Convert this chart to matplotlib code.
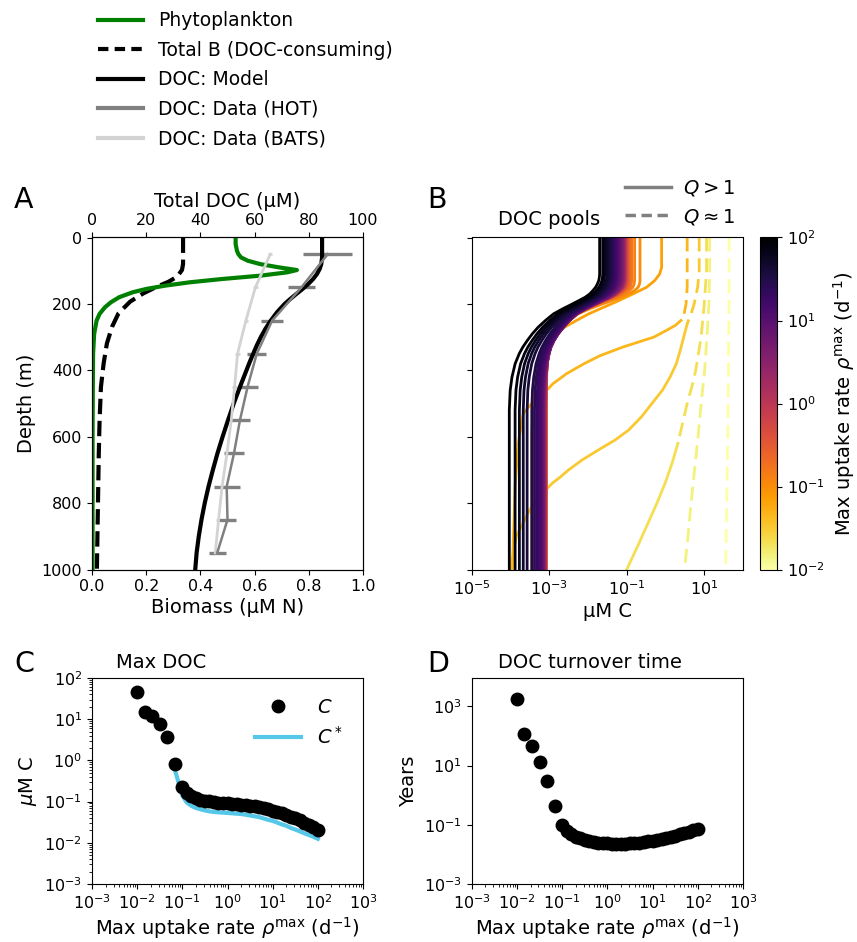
import numpy as np
import matplotlib
matplotlib.use("Agg")
import matplotlib.pyplot as plt
from matplotlib.colors import LogNorm
from matplotlib.lines import Line2D
import matplotlib.ticker as mticker
import matplotlib.cm as cm

# ---------------- Panel A data ----------------
phyto_depth = [0, 20, 40, 50, 60, 70, 80, 90, 98, 105, 115, 125, 135, 145, 155, 165, 180, 195, 210, 230, 250, 290, 350, 450, 600, 800, 1000]
phyto_biomass = [0.53, 0.53, 0.535, 0.54, 0.55, 0.575, 0.62, 0.69, 0.756, 0.72, 0.62, 0.48, 0.36, 0.27, 0.2, 0.15, 0.1, 0.07, 0.048, 0.028, 0.017, 0.008, 0.004, 0.003, 0.002, 0.002, 0.002]

bact_depth = [0, 40, 80, 98, 118, 133, 148, 168, 193, 228, 269, 319, 379, 450, 550, 651, 802, 1000]
bact_biomass = [0.336, 0.336, 0.336, 0.332, 0.314, 0.283, 0.24, 0.19, 0.141, 0.098, 0.074, 0.055, 0.043, 0.033, 0.028, 0.025, 0.022, 0.018]

docm_depth = [0, 60, 80, 95, 110, 125, 140, 155, 170, 185, 200, 225, 250, 275, 300, 325, 350, 375, 400,
              450, 500, 550, 600, 650, 700, 750, 800, 850, 900, 950, 1000]
docm_conc = [84.9, 84.9, 84.6, 84.0, 83.0, 81.6, 79.8, 77.7, 75.4, 73.2, 71.1, 68.3, 66.0, 64.0, 62.3, 60.8, 59.5, 58.2, 57.0,
             54.6, 52.3, 50.2, 48.2, 46.3, 44.6, 43.0, 41.6, 40.4, 39.4, 38.6, 38.1]

data_depth = [50, 150, 250, 350, 450, 550, 650, 750, 850, 950]
hot_doc = [87.0, 77.3, 66.5, 60.8, 57.4, 54.6, 52.4, 49.7, 50.0, 46.2]
hot_err = [9.0, 5.0, 4.0, 3.5, 3.7, 3.8, 3.6, 4.8, 3.0, 3.2]
bats_doc = [65.8, 60.3, 56.8, 53.7, 52.6, 51.4, 49.8, 48.0, 46.7, 45.5]
bats_err = [0.8, 0.8, 0.8, 0.8, 0.8, 0.8, 0.8, 0.8, 0.8, 0.8]

# ---------------- Panels C/D data ----------------
rate_exp = [-2.0, -1.833, -1.667, -1.5, -1.333, -1.167, -1.0,
            -0.9, -0.8, -0.7, -0.6, -0.5, -0.4, -0.3, -0.2, -0.1, 0.0,
            0.1, 0.2, 0.3, 0.4, 0.5, 0.6, 0.7, 0.8, 0.9, 1.0,
            1.1, 1.2, 1.3, 1.4, 1.5, 1.6, 1.7, 1.8, 1.9, 2.0]
max_doc = [45, 15, 11.8, 7.6, 3.7, 0.81, 0.22,
           0.16, 0.135, 0.12, 0.112, 0.106, 0.102, 0.098, 0.095, 0.093, 0.091,
           0.089, 0.087, 0.085, 0.083, 0.080, 0.077, 0.073, 0.069, 0.065, 0.060,
           0.056, 0.052, 0.047, 0.043, 0.039, 0.035, 0.031, 0.027, 0.024, 0.020]
cstar_exp = rate_exp[5:]
cstar = [0.6, 0.14,
         0.095, 0.079, 0.07, 0.065, 0.061, 0.058, 0.056, 0.055, 0.054, 0.053,
         0.052, 0.051, 0.05, 0.048, 0.046, 0.044, 0.042, 0.039, 0.036, 0.034,
         0.031, 0.028, 0.026, 0.023, 0.021, 0.019, 0.017, 0.0155, 0.014, 0.0125]
turnover = [1800, 120, 45, 13, 3.0, 0.44, 0.1,
            0.06, 0.048, 0.040, 0.035, 0.031, 0.028, 0.026, 0.025, 0.024, 0.0235,
            0.023, 0.0228, 0.0228, 0.023, 0.0235, 0.024, 0.025, 0.026, 0.0275, 0.029,
            0.031, 0.033, 0.036, 0.039, 0.043, 0.047, 0.052, 0.058, 0.064, 0.071]

# ---------------- Panel B data ----------------
# bundle (rates >= 0.1): surface value = max_doc, deep value (log10)
bundle_deep_log = [-3.07, -3.07, -3.07, -3.075, -3.08, -3.08, -3.085, -3.09, -3.09, -3.095, -3.10,
                   -3.10, -3.11, -3.115, -3.12, -3.13, -3.14, -3.15, -3.165, -3.18, -3.20,
                   -3.23, -3.27, -3.32, -3.38, -3.45, -3.57, -3.67, -3.77, -3.88, -4.03]
# transition profiles (fraction of log drop vs depth), low-rate edge and high-rate edge
shape_depth = [0, 110, 120, 130, 140, 150, 160, 170, 180, 190, 200, 215, 230, 250, 270, 290, 310, 330,
               350, 380, 420, 460, 520, 1000]
shape_low = [0, 0, 0, 0.0, 0.005, 0.02, 0.06, 0.12, 0.2, 0.3, 0.4, 0.54, 0.66, 0.76, 0.83, 0.9, 0.95, 0.98,
             0.99, 1.0, 1.0, 1.0, 1.0, 1.0]
shape_high = [0, 0, 0.003, 0.01, 0.025, 0.045, 0.075, 0.11, 0.16, 0.23, 0.3, 0.41, 0.51, 0.6, 0.68, 0.745, 0.80, 0.85,
              0.89, 0.935, 0.97, 0.99, 1.0, 1.0]

# low-rate profiles (log10 uM C)
p1_depth = [0, 200, 400, 600, 800, 1000]
p1_log = [1.64, 1.64, 1.625, 1.605, 1.58, 1.55]
p1_dash_until = 1000
p2_depth = [0, 100, 200, 300, 400, 490, 600, 700, 800, 900, 1000]
p2_log = [1.14, 1.14, 1.12, 1.07, 1.01, 0.93, 0.84, 0.75, 0.66, 0.58, 0.49]
p2_dash_until = 1000
p3_depth = [0, 100, 200, 300, 400, 450, 490, 550, 620, 680, 740, 800, 860, 920, 1000]
p3_log = [1.06, 1.06, 1.0, 0.92, 0.78, 0.68, 0.58, 0.46, 0.32, 0.17, -0.01, -0.22, -0.45, -0.68, -1.0]
p3_dash_until = 620
p4_depth = [0, 100, 150, 200, 230, 260, 300, 340, 380, 420, 460, 500, 540, 580, 610, 637, 670, 700, 722,
            740, 756, 780, 820, 900, 1000]
p4_log = [0.87, 0.87, 0.83, 0.74, 0.66, 0.56, 0.47, 0.38, 0.28, 0.12, -0.08, -0.35, -0.62, -0.95, -1.3, -1.69, -2.15,
          -2.5, -2.72, -2.92, -3.05, -3.25, -3.5, -3.85, -4.0]
p4_dash_until = 260
p5_depth = [0, 150, 200, 230, 250, 265, 280, 300, 315, 330, 356, 380, 410, 440, 456, 470, 500, 530, 620, 750, 1000]
p5_log = [0.56, 0.56, 0.53, 0.48, 0.40, 0.25, 0.02, -0.3, -0.7, -1.1, -1.69, -2.1, -2.55, -2.9, -3.03, -3.15,
          -3.45, -3.67, -3.8, -3.88, -3.95]
p5_dash_until = 250
p6_depth = [0, 90, 110, 130, 150, 170, 193, 215, 230, 250, 270, 290, 310, 350, 400, 450, 600, 1000]
p6_log = [-0.10, -0.10, -0.15, -0.28, -0.49, -0.84, -1.26, -1.69, -1.98, -2.3, -2.6, -2.81, -2.98, -3.2, -3.33,
          -3.4, -3.45, -3.45]
p6_dash_until = 0

low_profiles = [(p1_depth, p1_log, p1_dash_until), (p2_depth, p2_log, p2_dash_until),
                (p3_depth, p3_log, p3_dash_until), (p4_depth, p4_log, p4_dash_until),
                (p5_depth, p5_log, p5_dash_until), (p6_depth, p6_log, p6_dash_until)]

# ---------------- figure ----------------
FS = 14
TFS = 11.5
plt.rcParams['font.family'] = ['DejaVu Sans']
plt.rcParams['xtick.labelsize'] = TFS
plt.rcParams['ytick.labelsize'] = TFS
plt.rcParams['axes.labelsize'] = FS

fig = plt.figure(figsize=(8.57, 9.42), dpi=100)
W, H = 857.0, 942.0

def rect(l, t, r, b):
    return [l / W, 1 - b / H, (r - l) / W, (b - t) / H]

axA = fig.add_axes(rect(92, 237.5, 363, 569.5))
axB = fig.add_axes(rect(471.7, 237.5, 743, 569.5))
cax = fig.add_axes(rect(760, 237.5, 777, 569.5))
axC = fig.add_axes(rect(92, 678, 363, 884))
axD = fig.add_axes(rect(471.7, 678, 743, 884))

# ---- Panel A ----
axA.plot(phyto_biomass, phyto_depth, color='green', lw=3, zorder=3)
axA.plot(bact_biomass, bact_depth, color='black', lw=3, ls=(0, (3.7, 1.6)), zorder=2)
axA.set_xlim(0, 1)
axA.set_ylim(1000, 0)
axA.set_yticks([0, 200, 400, 600, 800, 1000])
axA.set_xticks([0, 0.2, 0.4, 0.6, 0.8, 1.0])
axA.set_xlabel('Biomass (\u00b5M N)', fontsize=FS, labelpad=3)
axA.set_ylabel('Depth (m)', fontsize=FS)
axT = axA.twiny()
axT.errorbar(bats_doc, data_depth, xerr=bats_err, color='lightgray', lw=2, elinewidth=2, capsize=0)
axT.errorbar(hot_doc, data_depth, xerr=hot_err, color='gray', lw=1.8, elinewidth=2.4, capsize=0)
axT.plot(docm_conc, docm_depth, color='black', lw=3)
axT.set_xlim(0, 100)
axT.set_xticks([0, 20, 40, 60, 80, 100])
axT.set_xlabel('Total DOC (\u00b5M)', fontsize=FS)
axT.set_ylim(1000, 0)

# ---- Panel B ----
cmap = plt.get_cmap('inferno_r')
norm = LogNorm(1e-2, 1e2)
rates = 10 ** np.array(rate_exp)
dash = (0, (5, 2.5))
for (d, v, du), r in zip(low_profiles, rates[:6]):
    d = np.array(d, float)
    v = 10 ** np.array(v, float)
    col = cmap(norm(r))
    m1 = d <= du
    m2 = d >= du
    if m1.sum() > 1:
        axB.plot(v[m1], d[m1], color=col, lw=2, ls=dash)
    if m2.sum() > 1:
        axB.plot(v[m2], d[m2], color=col, lw=2, ls='-')
b_exp = np.array(rate_exp[6:])
b_top = np.log10(np.array(max_doc[6:]))
sd = np.array(shape_depth, float)
for e, top, deep in zip(b_exp, b_top, bundle_deep_log):
    w = (e + 1.0) / 3.0
    f = (1 - w) * np.array(shape_low) + w * np.array(shape_high)
    vals = 10 ** (top + f * (deep - top))
    axB.plot(vals, sd, color=cmap(norm(10 ** e)), lw=2)
axB.set_xscale('log')
axB.set_xlim(1e-5, 1e2)
axB.set_ylim(1000, 0)
axB.set_yticks([0, 200, 400, 600, 800, 1000])
axB.set_yticklabels([])
axB.set_xticks([1e-5, 1e-3, 1e-1, 1e1])
axB.xaxis.set_minor_locator(mticker.NullLocator())
axB.set_xlabel('\u00b5M C', fontsize=FS, labelpad=3)
axB.text(0.097, 1.025, 'DOC pools', transform=axB.transAxes, fontsize=FS, ha='left', va='bottom')
qh = [Line2D([], [], color='gray', lw=2.5, ls='-'), Line2D([], [], color='gray', lw=2.5, ls=(0, (3, 1.6)))]
axB.legend(qh, ['$Q > 1$', '$Q \\approx 1$'], loc='lower right', bbox_to_anchor=(1.035, 0.98),
           frameon=False, fontsize=FS, handlelength=2.4, labelspacing=0.45, handletextpad=0.6)

sm = cm.ScalarMappable(norm=norm, cmap=cmap)
cb = fig.colorbar(sm, cax=cax)
cb.set_ticks([1e-2, 1e-1, 1e0, 1e1, 1e2])
cb.ax.minorticks_off()
cb.ax.tick_params(labelsize=TFS)
cb.set_label('Max uptake rate $\\rho^{\\mathrm{max}}$ (d$^{-1}$)', fontsize=FS, labelpad=5)

# ---- Panel C ----
axC.plot(10 ** np.array(rate_exp), max_doc, 'o', color='black', ms=9, zorder=3, label='$C$')
axC.plot(10 ** np.array(cstar_exp), cstar, '-', color='#55c8ea', lw=3, zorder=2, label='$C^*$')
axC.set_xscale('log')
axC.set_yscale('log')
axC.set_xlim(1e-3, 1e3)
axC.set_ylim(1e-3, 1e2)
axC.set_ylabel('$\\mu$M C', fontsize=FS)
axC.set_xlabel('Max uptake rate $\\rho^{\\mathrm{max}}$ (d$^{-1}$)', fontsize=FS, labelpad=2)
axC.text(0.088, 1.03, 'Max DOC', transform=axC.transAxes, fontsize=FS, ha='left', va='bottom')
axC.legend(loc='upper right', frameon=False, fontsize=FS, handlelength=2.4, bbox_to_anchor=(0.99, 0.99))

# ---- Panel D ----
axD.plot(10 ** np.array(rate_exp), turnover, 'o', color='black', ms=9)
axD.set_xscale('log')
axD.set_yscale('log')
axD.set_xlim(1e-3, 1e3)
axD.set_ylim(1e-3, 9e3)
axD.set_yticks([1e-3, 1e-1, 1e1, 1e3])
axD.yaxis.set_minor_locator(mticker.NullLocator())
axD.set_ylabel('Years', fontsize=FS)
axD.set_xlabel('Max uptake rate $\\rho^{\\mathrm{max}}$ (d$^{-1}$)', fontsize=FS, labelpad=2)
axD.text(0.096, 1.03, 'DOC turnover time', transform=axD.transAxes, fontsize=FS, ha='left', va='bottom')

for ax in [axC, axD]:
    ax.xaxis.set_major_locator(mticker.LogLocator(base=10, numticks=20))
    ax.xaxis.set_minor_locator(mticker.LogLocator(base=10, subs=np.arange(2, 10), numticks=20))
    ax.xaxis.set_minor_formatter(mticker.NullFormatter())
axC.yaxis.set_major_locator(mticker.LogLocator(base=10, numticks=20))
axC.yaxis.set_minor_locator(mticker.LogLocator(base=10, subs=np.arange(2, 10), numticks=20))
axC.yaxis.set_minor_formatter(mticker.NullFormatter())

# panel letters
for lab, x, y in [('A', 14, 208), ('B', 427, 208), ('C', 14, 672), ('D', 427, 672)]:
    fig.text(x / W, 1 - y / H, lab, fontsize=20.5, ha='left', va='baseline')

# top legend
hands = [Line2D([], [], color='green', lw=3),
         Line2D([], [], color='black', lw=3, ls=(0, (2.5, 1.5))),
         Line2D([], [], color='black', lw=3),
         Line2D([], [], color='gray', lw=3),
         Line2D([], [], color='lightgray', lw=3)]
labs = ['Phytoplankton', 'Total B (DOC-consuming)', 'DOC: Model', 'DOC: Data (HOT)', 'DOC: Data (BATS)']
fig.legend(hands, labs, loc='upper left', bbox_to_anchor=(87 / W, 1 - 0 / H), frameon=False,
           fontsize=13.5, handlelength=2.4, labelspacing=0.56, borderpad=0.1)

fig.savefig('out.png', dpi=100)
